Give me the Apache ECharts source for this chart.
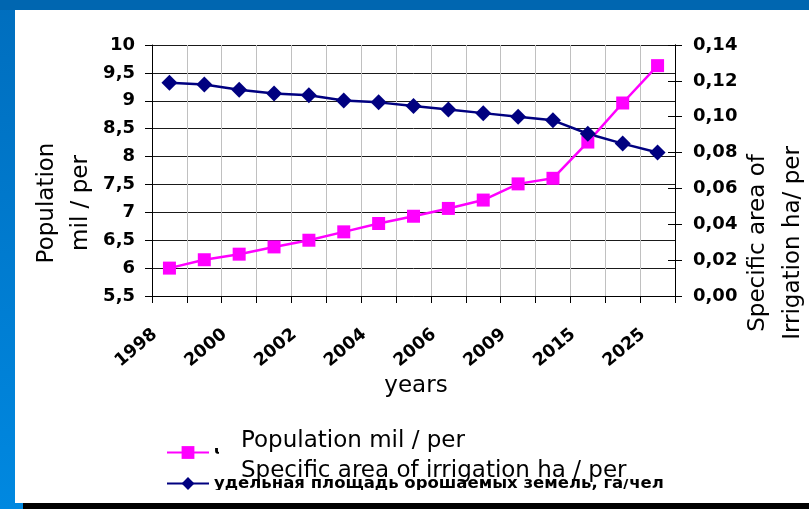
<!DOCTYPE html>
<html>
<head>
<meta charset="utf-8">
<script src="https://cdn.jsdelivr.net/npm/echarts@6/dist/echarts.min.js"></script>
<style>
  html, body { margin: 0; padding: 0; }
  body { width: 809px; height: 509px; position: relative; overflow: hidden;
         background: linear-gradient(#006ebe, #0088e0); }
  #topband { position: absolute; left: 0; top: 0; width: 809px; height: 10px; background: #0066b0; }
  #sheet { position: absolute; left: 15px; top: 10px; width: 794px; height: 493px; background: #fff; }
  #bottombar { position: absolute; left: 23px; top: 503px; width: 786px; height: 6px; background: #000; }
  #chart { position: absolute; left: 0; top: 0; width: 809px; height: 509px; }
</style>
</head>
<body>
<div id="topband"></div>
<div id="sheet"></div>
<div id="bottombar"></div>
<div id="chart"></div>
<script>
// categories (every second one is labelled)
var years = ['1998', '1999', '2000', '2001', '2002', '2003', '2004', '2005',
  '2006', '2008', '2009', '2010', '2015', '2020', '2025'];

// population, mil / per (left axis)
var population = [6.0, 6.15, 6.25, 6.38, 6.5, 6.65, 6.8, 6.93, 7.07, 7.22,
  7.51, 7.61, 8.26, 8.96, 9.63];

// specific area of irrigation, ha / per (right axis)
var irrigation = [0.119, 0.118, 0.115, 0.113, 0.112, 0.109, 0.108, 0.106,
  0.104, 0.102, 0.1, 0.098, 0.0905, 0.085, 0.08];

var seriesNames = ['численность населения, млн чел',
  'удельная площадь орошаемых земель, га/чел'];
var overlayLines = ['Population mil / per', 'Specific area of irrigation ha / per'];
var leftTitle = ['Population', 'mil / per'];
var rightTitle = ['Specific area of', 'Irrigation ha/ per'];
var xTitle = 'years';

var FONT = 'DejaVu Sans';
var chart = echarts.init(document.getElementById('chart'));

var tickLabel = {
  color: '#000',
  fontFamily: FONT,
  fontWeight: 'bold',
  fontSize: 18
};

var option = {
  animation: false,
  backgroundColor: 'transparent',
  textStyle: { fontFamily: FONT },
  grid: { left: 152, right: 134, top: 45, bottom: 213 },
  legend: {
    orient: 'vertical',
    left: 166,
    top: 444,
    padding: 0,
    itemWidth: 42,
    itemHeight: 16,
    itemGap: 14,
    textStyle: { color: '#000', fontFamily: FONT, fontWeight: 'bold', fontSize: 16.5 },
    data: seriesNames
  },
  xAxis: {
    type: 'category',
    data: years,
    boundaryGap: true,
    axisLine: { lineStyle: { color: '#000', width: 1 } },
    axisTick: { show: true, interval: 0, length: 7, lineStyle: { color: '#000' } },
    splitLine: { show: true, interval: 0, lineStyle: { color: '#c0c0c0', width: 1 } },
    axisLabel: {
      interval: 1,
      rotate: 40,
      margin: 24,
      padding: [0, 19, 0, 0],
      color: '#000',
      fontFamily: FONT,
      fontWeight: 'bold',
      fontSize: 17.5
    }
  },
  yAxis: [
    {
      type: 'value',
      position: 'left',
      min: 5.5,
      max: 10,
      interval: 0.5,
      axisLine: { show: true, lineStyle: { color: '#000' } },
      axisTick: { show: true, length: 7, lineStyle: { color: '#000' } },
      splitLine: { show: true, lineStyle: { color: '#1a1a1a', width: 1 } },
      axisLabel: Object.assign({
        margin: 17,
        formatter: function (v) { return String(+v.toFixed(1)).replace('.', ','); }
      }, tickLabel)
    },
    {
      type: 'value',
      position: 'right',
      min: 0,
      max: 0.14,
      interval: 0.02,
      axisLine: { show: true, lineStyle: { color: '#000' } },
      axisTick: { show: true, length: 7, lineStyle: { color: '#000' } },
      splitLine: { show: false },
      axisLabel: Object.assign({
        margin: 18,
        formatter: function (v) { return v.toFixed(2).replace('.', ','); }
      }, tickLabel)
    },
    {
      // same scale again, only to get the ticks crossing the right axis
      type: 'value',
      position: 'right',
      min: 0,
      max: 0.14,
      interval: 0.02,
      axisLine: { show: true, lineStyle: { color: '#000' } },
      axisTick: { show: true, inside: true, length: 7, lineStyle: { color: '#000' } },
      splitLine: { show: false },
      axisLabel: { show: false }
    }
  ],
  series: [
    {
      name: seriesNames[0],
      type: 'line',
      yAxisIndex: 0,
      data: population,
      symbol: 'rect',
      symbolSize: 13,
      lineStyle: { color: '#ff00ff', width: 2.5 },
      itemStyle: { color: '#ff00ff' }
    },
    {
      name: seriesNames[1],
      type: 'line',
      yAxisIndex: 1,
      data: irrigation,
      symbol: 'diamond',
      symbolSize: [16, 16],
      lineStyle: { color: '#000080', width: 2.5 },
      itemStyle: { color: '#000080' }
    }
  ],
  graphic: [
    {
      type: 'text', z: 100, x: 64, y: 203, rotation: Math.PI / 2,
      style: { text: leftTitle.join('\n'), fill: '#000', fontFamily: FONT, fontSize: 23,
        lineHeight: 34, align: 'center', verticalAlign: 'middle' }
    },
    {
      type: 'text', z: 100, x: 776, y: 243, rotation: Math.PI / 2,
      style: { text: rightTitle.join('\n'), fill: '#000', fontFamily: FONT, fontSize: 23,
        lineHeight: 35, align: 'center', verticalAlign: 'middle' }
    },
    {
      type: 'text', z: 100, x: 416, y: 386,
      style: { text: xTitle, fill: '#000', fontFamily: FONT, fontSize: 23,
        align: 'center', verticalAlign: 'middle' }
    },
    // white text box pasted over the legend
    {
      type: 'rect', z: 100, shape: { x: 219, y: 426, width: 470, height: 53 },
      style: { fill: '#fff' }
    },
    {
      type: 'text', z: 101, x: 241, y: 426,
      style: { text: overlayLines.join('\n'), fill: '#000', fontFamily: FONT, fontSize: 23,
        lineHeight: 30, align: 'left', verticalAlign: 'top' }
    },
    // the chart object is cut off at the bottom
    {
      type: 'rect', z: 99, shape: { x: 15, y: 490, width: 794, height: 13 },
      style: { fill: '#fff' }
    }
  ]
};

chart.setOption(option);
</script>
</body>
</html>
